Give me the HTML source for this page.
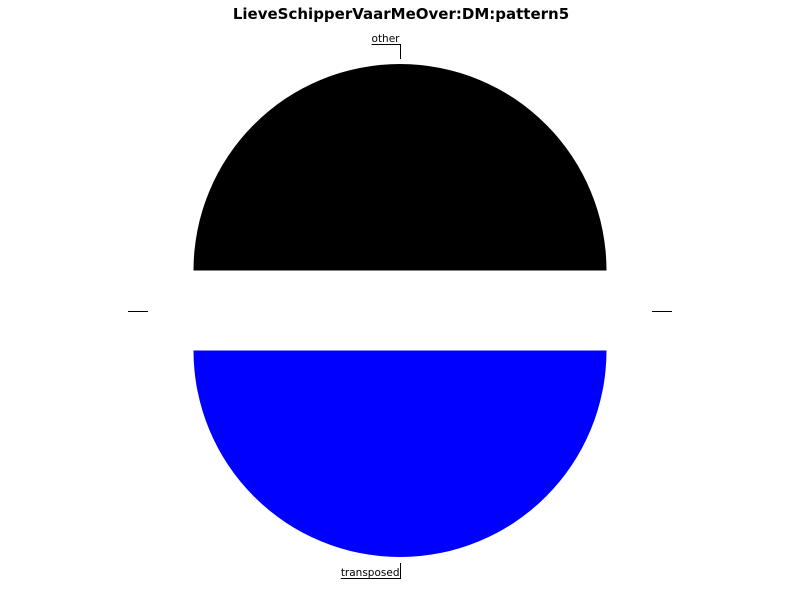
<!DOCTYPE html>
<html><head><meta charset="utf-8"><style>
html,body{margin:0;padding:0;background:#fff;}
svg{display:block;}
</style></head><body>
<svg id="chart" width="800" height="600" viewBox="0 0 800 600">
<rect width="800" height="600" fill="#fff"/>
<text x="401" y="19" text-anchor="middle" font-family="DejaVu Sans, Liberation Sans, sans-serif" font-weight="bold" font-size="15" fill="#000">LieveSchipperVaarMeOver:DM:pattern5</text>
<g id="slices"></g>
<g id="labels"></g>
</svg>
<script>
const categories = ["", "other", "", "transposed"];
const values = [0, 50, 0, 50];
const colors = ["#ff0000", "#000000", "#00ff00", "#0000ff"];

const cx = 400, cy = 310.5, R = 206.5, explode = 40;
const NS = "http://www.w3.org/2000/svg";
const sg = document.getElementById('slices');
const lg = document.getElementById('labels');
const total = values.reduce((a, b) => a + b, 0);
function angleOf(v) { return v / total * 2 * Math.PI; }
let a0 = 0;
values.forEach((v, i) => {
  const a1 = a0 + angleOf(v);
  const mid = (a0 + a1) / 2;
  const ox = cx + explode * Math.cos(mid), oy = cy - explode * Math.sin(mid);
  if (v > 0) {
    const x0 = ox + R * Math.cos(a0), y0 = oy - R * Math.sin(a0);
    const x1 = ox + R * Math.cos(a1), y1 = oy - R * Math.sin(a1);
    const large = (a1 - a0) > Math.PI ? 1 : 0;
    const p = document.createElementNS(NS, 'path');
    p.setAttribute('d', `M${ox},${oy} L${x0},${y0} A${R},${R} 0 ${large} 0 ${x1},${y1} Z`);
    p.setAttribute('fill', colors[i]);
    
    
    sg.appendChild(p);
  }
  const r1 = 252, r2 = 267;
  const ey = cy - r1 * Math.sin(mid);
  const bx = cx + r2 * Math.cos(mid), by = cy - r2 * Math.sin(mid);
  const t = document.createElementNS(NS, 'text');
  t.textContent = categories[i];
  t.setAttribute('font-family', 'DejaVu Sans, Liberation Sans, sans-serif');
  t.setAttribute('font-size', '10.5');
  t.setAttribute('fill', '#000');
  
  
  lg.appendChild(t);
  let w = categories[i] ? t.getComputedTextLength() : 0;
  if (w < 20) w = 20;
  const pl = document.createElementNS(NS, 'polyline');
  let pts;
  if (Math.abs(Math.sin(mid)) > 0.5) {
    const by2 = Math.round(by) + 0.5, bxr = Math.round(bx) + 0.5;
    pts = `${bxr},${Math.round(ey)} ${bxr},${by2} ${bxr - w - 1},${by2}`;
    t.setAttribute('x', bxr - w - 1);
    t.setAttribute('y', by2 - 2.5);
  } else {
    const yy = Math.round(cy) + 0.5;
    const sx = Math.cos(mid) >= 0 ? 1 : -1;
    pts = `${cx + sx * 252},${yy} ${cx + sx * 272},${yy}`;
    t.setAttribute('x', cx + sx * 272);
    t.setAttribute('y', yy - 3);
  }
  pl.setAttribute('points', pts);
  pl.setAttribute('fill', 'none');
  pl.setAttribute('stroke', '#000');
  pl.setAttribute('stroke-width', '1');
  
  
  lg.appendChild(pl);
  a0 = a1;
});
</script>
</body></html>
